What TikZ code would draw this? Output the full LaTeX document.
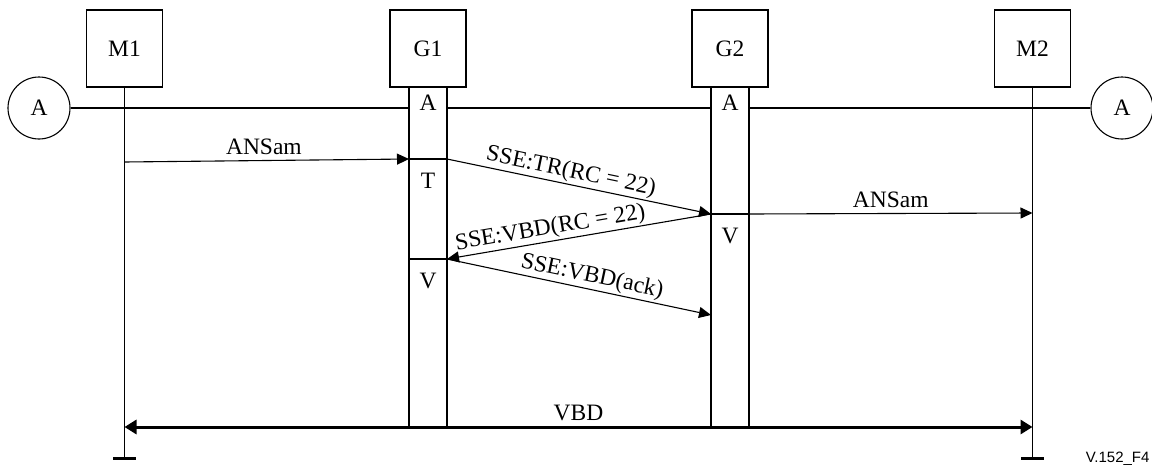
\documentclass[tikz,border=0pt]{standalone}
\usepackage{fontspec}
\setmainfont{Liberation Serif}
\newfontfamily\figsans{Liberation Sans}
\usetikzlibrary{arrows.meta}
\begin{document}
\begin{tikzpicture}[x=1pt,y=-1pt,line width=1.1pt,
  txt/.style={font=\fontsize{23.5pt}{27pt}\selectfont, inner sep=0pt},
  entity/.style={txt, draw, minimum width=76pt, minimum height=77pt},
  circ/.style={txt, draw, circle, minimum size=62pt},
  strip/.style={draw},
  msg/.style={-{Triangle[length=12pt,width=11pt]}},
  lbl/.style={txt, sloped, above, inner sep=1.5pt}]
\useasboundingbox (0,0) rectangle (1152,466);
% entities
\node[entity] (M1) at (124.5,48.5) {M1};
\node[entity] (G1) at (428,48.5) {G1};
\node[entity] (G2) at (730,48.5) {G2};
\node[entity] (M2) at (1032.5,48.5) {M2};
% circles
\node[circ] (CL) at (39,108) {A};
\node[circ] (CR) at (1122,108) {A};
% strips
\draw[strip] (409,87) rectangle (447,427);
\draw[strip] (711,87) rectangle (749,427);
% strip coordinates
\coordinate (g1tl) at (409,108);
\coordinate (g1tr) at (447,108);
\coordinate (g2tl) at (711,108);
\coordinate (g2tr) at (749,108);
\node[txt] (g1A) at (428,103) {A};
\node[txt] (g1T) at (428,181) {T};
\node[txt] (g1V) at (428,281) {V};
\node[txt] (g2A) at (730,103) {A};
\node[txt] (g2V) at (730,236) {V};
% lifelines
\coordinate (m1end) at (124.5,458);
\coordinate (m2end) at (1032.5,458);
\draw (M1.south) -- (m1end);
\draw (M2.south) -- (m2end);
\draw[line width=3pt] ([xshift=-11.5pt]m1end) -- ([xshift=11.5pt]m1end);
\draw[line width=3pt] ([xshift=-11.5pt]m2end) -- ([xshift=11.5pt]m2end);
% A line
\draw (CL.east) -- (g1tl);
\draw (g1tr) -- (g2tl);
\draw (g2tr) -- (CR.west);
% strip divisions
\coordinate (g1d1l) at (409,159);
\coordinate (g1d1r) at (447,159);
\coordinate (g1d2l) at (409,259);
\coordinate (g1d2r) at (447,259);
\coordinate (g2dl) at (711,214);
\coordinate (g2dr) at (749,214);
\draw (g1d1l) -- (g1d1r);
\draw (g1d2l) -- (g1d2r);
\draw[line width=2pt] (g2dl) -- (g2dr);
% messages
\coordinate (a1s) at (124.5,162);
\coordinate (a2e) at (1032.5,213);
\coordinate (ackE) at (711,315);
\draw[msg] (a1s) -- node[txt, above=5pt, pos=0.49] {ANSam} (g1d1l);
\draw[msg] (g1d1r) -- node[lbl, pos=0.46] {SSE:TR(RC = 22)} (g2dl);
\draw[msg] (g2dr) -- node[txt, above=5pt, pos=0.5] {ANSam} (a2e);
\draw[msg] (g2dl) -- node[lbl, pos=0.6] {SSE:VBD(RC = 22)} (g1d2r);
\draw[msg] (g1d2r) -- node[lbl, pos=0.54] {SSE:VBD(ack)} (ackE);
% VBD
\coordinate (vl) at (124.5,427);
\coordinate (vr) at (1032.5,427);
\draw[line width=3pt, {Triangle[length=12pt,width=14pt]}-{Triangle[length=12pt,width=14pt]}] (vl) -- node[txt, above=5pt] {VBD} (vr);
\node[font=\figsans\fontsize{15pt}{17pt}\selectfont, inner sep=0pt, anchor=east] (fig) at (1150,459) {V.152\_F4};
\end{tikzpicture}
\end{document}
